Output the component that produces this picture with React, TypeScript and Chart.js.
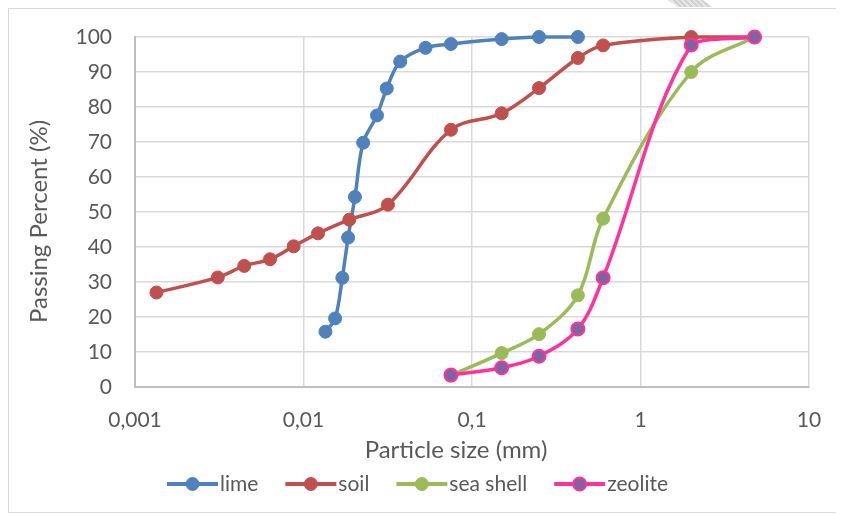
import React, { useEffect, useRef } from 'react';
import { Chart, registerables } from 'chart.js';

Chart.register(...registerables);

document.documentElement.style.overflow = 'hidden';

// ---------- data ----------
const seriesNames = ['lime', 'soil', 'sea shell', 'zeolite'];

const limeSize = [0.0135, 0.0154, 0.017, 0.0184, 0.0202, 0.0226, 0.0273, 0.0312, 0.0375, 0.053, 0.075, 0.15, 0.25, 0.425];
const limePass = [15.8, 19.6, 31.2, 42.7, 54.3, 69.8, 77.6, 85.3, 93.0, 96.9, 98.0, 99.4, 100, 100];

const soilSize = [0.00134, 0.0031, 0.00445, 0.00633, 0.00874, 0.0122, 0.0187, 0.0317, 0.075, 0.15, 0.25, 0.425, 0.6, 2.0, 4.75];
const soilPass = [27.0, 31.3, 34.6, 36.5, 40.2, 43.9, 47.8, 52.1, 73.5, 78.2, 85.4, 94.0, 97.6, 100, 100];

const seaShellSize = [0.075, 0.15, 0.25, 0.425, 0.6, 2.0, 4.75];
const seaShellPass = [3.3, 9.7, 15.1, 26.2, 48.1, 90.0, 100];

const zeoliteSize = [0.075, 0.15, 0.25, 0.425, 0.6, 2.0, 4.75];
const zeolitePass = [3.4, 5.5, 8.8, 16.6, 31.2, 97.7, 100];

const xTickValues = [0.001, 0.01, 0.1, 1, 10];
const yMin = 0;
const yMax = 100;
const yStep = 10;

const xTitle = 'Particle size (mm)';
const yTitle = 'Passing Percent (%)';

// ---------- styles ----------
const TEXT = '#595959';
const FONT = 'Lato';

function toPoints(xs: number[], ys: number[]) {
  return xs.map((x, i) => ({ x, y: ys[i] }));
}

const extrasPlugin = {
  id: 'excelExtras',
  afterDraw(chart: any) {
    const { ctx, chartArea: a } = chart;
    ctx.save();
    ctx.fillStyle = TEXT;
    ctx.font = `24px ${FONT}`;
    ctx.textAlign = 'center';
    ctx.textBaseline = 'middle';
    ctx.fillText(xTitle, (a.left + a.right) / 2 - 16, a.bottom + 63);
    ctx.save();
    ctx.translate(a.left - 96, (a.top + a.bottom) / 2 + 9.5);
    ctx.rotate(-Math.PI / 2);
    ctx.fillText(yTitle, 0, 0);
    ctx.restore();

    // legend
    ctx.font = `21px ${FONT}`;
    ctx.textAlign = 'left';
    const lineW = 51;
    const textOff = 53;
    const gapAfter = 27;
    const items = chart.data.datasets.map((ds: any) => ({ ds, w: ctx.measureText(ds.label).width }));
    const total = items.reduce((s: number, it: any) => s + textOff + it.w + gapAfter, 0) - gapAfter;
    let x = chart.width / 2 - total / 2 - 9;
    const y = a.bottom + 97;
    items.forEach((it: any) => {
      const ds = it.ds;
      ctx.strokeStyle = ds.borderColor;
      ctx.lineWidth = 4;
      ctx.beginPath();
      ctx.moveTo(x, y);
      ctx.lineTo(x + lineW, y);
      ctx.stroke();
      ctx.beginPath();
      ctx.arc(x + lineW / 2, y, 6.5, 0, Math.PI * 2);
      ctx.fillStyle = ds.pointBackgroundColor;
      ctx.fill();
      ctx.lineWidth = ds.pointBorderWidth;
      ctx.strokeStyle = ds.pointBorderColor;
      ctx.stroke();
      ctx.fillStyle = TEXT;
      ctx.fillText(ds.label, x + textOff, y);
      x += textOff + it.w + gapAfter;
    });
    ctx.restore();
  },
};

function makeDataset(label: string, xs: number[], ys: number[], line: string, fill: string, border: string, bw: number, order: number) {
  return {
    label,
    data: toPoints(xs, ys),
    showLine: true,
    borderColor: line,
    backgroundColor: line,
    borderWidth: 3.5,
    tension: 0.35,
    pointRadius: 6.5,
    pointHoverRadius: 6.5,
    pointBackgroundColor: fill,
    pointBorderColor: border,
    pointBorderWidth: bw,
    clip: false,
    order,
  };
}

export default function App() {
  const ref = useRef<HTMLCanvasElement | null>(null);

  useEffect(() => {
    if (!ref.current) return;
    const chart = new Chart(ref.current, {
      type: 'scatter',
      data: {
        datasets: [
          makeDataset(seriesNames[0], limeSize, limePass, '#4F81BD', '#4F81BD', '#4F81BD', 1, 3),
          makeDataset(seriesNames[1], soilSize, soilPass, '#C0504D', '#C0504D', '#C0504D', 1, 2),
          makeDataset(seriesNames[2], seaShellSize, seaShellPass, '#9BBB59', '#9BBB59', '#9BBB59', 1, 1),
          makeDataset(seriesNames[3], zeoliteSize, zeolitePass, '#FF3399', '#8064A2', '#FF3399', 2, 0),
        ] as any,
      },
      options: {
        responsive: false,
        animation: false,
        devicePixelRatio: 1,
        layout: { padding: { left: 0, top: 28, right: 35, bottom: 0 } },
        plugins: {
          legend: { display: false },
          tooltip: { enabled: false },
        },
        scales: {
          x: {
            type: 'logarithmic',
            min: xTickValues[0],
            max: xTickValues[xTickValues.length - 1],
            afterBuildTicks: (axis: any) => {
              axis.ticks = xTickValues.map((v) => ({ value: v }));
            },
            afterFit: (scale: any) => {
              scale.height = 125;
              scale.paddingLeft = 0;
              scale.paddingRight = 0;
            },
            ticks: {
              color: TEXT,
              font: { family: FONT, size: 21 },
              padding: 21,
              maxRotation: 0,
              autoSkip: false,
              callback: (v: any) => String(v).replace('.', ','),
            },
            grid: { color: '#d9d9d9', lineWidth: 1.5, drawTicks: false },
            border: { color: '#bfbfbf', width: 2 },
          },
          y: {
            type: 'linear',
            min: yMin,
            max: yMax,
            afterFit: (scale: any) => {
              scale.width = 126;
              scale.paddingTop = 0;
              scale.paddingBottom = 0;
            },
            ticks: {
              stepSize: yStep,
              color: TEXT,
              font: { family: FONT, size: 21 },
              padding: 23,
            },
            grid: { color: '#d9d9d9', lineWidth: 1.5, drawTicks: false },
            border: { color: '#bfbfbf', width: 2 },
          },
        },
      },
      plugins: [extrasPlugin],
    });
    return () => chart.destroy();
  }, []);

  return (
    <>
      <div
        style={{
          position: 'fixed',
          top: 0,
          left: 668,
          width: 45,
          height: 7,
          background: 'repeating-linear-gradient(45deg, #d2d2d2 0px, #d2d2d2 2px, #e6e6e6 2px, #e6e6e6 4px)',
          clipPath: 'polygon(0 0, 35px 0, 45px 7px, 10px 7px)',
        }}
      />
      <div
        style={{
          width: 835,
          height: 503,
          borderTop: '1px solid #d9d9d9',
          borderLeft: '1px solid #d9d9d9',
          borderBottom: '1px solid #d9d9d9',
          background: '#fff',
        }}
      >
        <canvas ref={ref} width={835} height={503} style={{ display: 'block' }} />
      </div>
    </>
  );
}
